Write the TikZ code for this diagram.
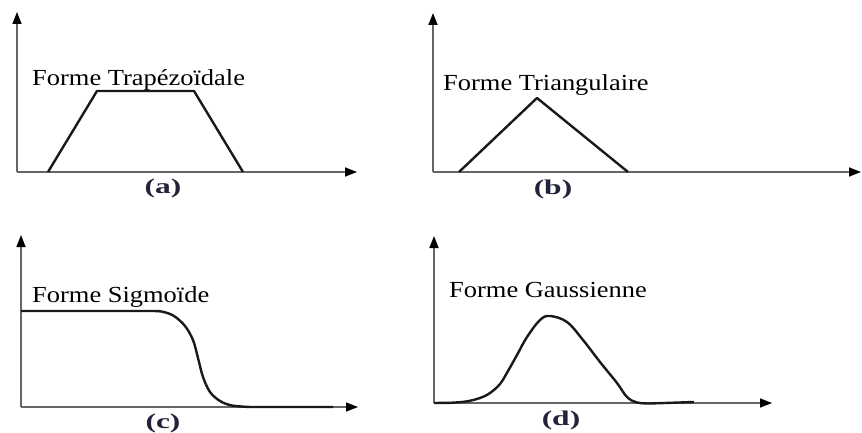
\documentclass[tikz,border=0pt]{standalone}
\usepackage{fontspec}
\setmainfont{Liberation Serif}
\newfontfamily\titlefont[FakeStretch=1.15]{Liberation Serif}
\newfontfamily\labfont[FakeStretch=1.5]{Liberation Serif}
\usetikzlibrary{arrows.meta}
\definecolor{labcol}{HTML}{22223A}
\begin{document}
\begin{tikzpicture}[x=1pt,y=-1pt,
  axis/.style={draw=black!60, line width=1.6pt, -{Triangle[length=12pt,width=9pt,color=black]}},
  curve/.style={draw=black!90, line width=2.4pt, line join=round},
  title/.style={anchor=base west, inner sep=0pt, font=\titlefont\fontsize{23}{27}\selectfont},
  lab/.style={inner sep=0pt, text=labcol, font=\labfont\bfseries\fontsize{21}{25}\selectfont}]
\useasboundingbox (0,0) rectangle (862,433);

% ---------- (a) trapezoid ----------
\coordinate (Ao) at (17,172);
\coordinate (Ay) at (17,12);
\coordinate (Ax) at (357,172);
\draw[axis] (Ao) -- (Ay);
\draw[axis] (Ao) -- (Ax);
\coordinate (A1) at (48,172);
\coordinate (A2) at (97,91);
\coordinate (A3) at (194,91);
\coordinate (A4) at (243,172);
\draw[curve] (A1) -- (A2) -- (A3) -- (A4);
\node[title] (Ta) at (32,86) {Forme Trapézoïdale};
\node[lab] (La) at (163,188) {(a)};

% ---------- (b) triangle ----------
\coordinate (Bo) at (433,172);
\coordinate (By) at (433,13);
\coordinate (Bx) at (861,172);
\draw[axis] (Bo) -- (By);
\draw[axis] (Bo) -- (Bx);
\coordinate (B1) at (459,172);
\coordinate (B2) at (537,98);
\coordinate (B3) at (628,172);
\draw[curve] (B1) -- (B2) -- (B3);
\node[title] (Tb) at (443,91) {Forme Triangulaire};
\node[lab] (Lb) at (553,189) {(b)};

% ---------- (c) sigmoid ----------
\coordinate (Co) at (21,407);
\coordinate (Cy) at (21,235);
\coordinate (Cx) at (358,407);
\draw[axis] (Co) -- (Cy);
\draw[axis] (Co) -- (Cx);
\coordinate (C1) at (21,311);
\coordinate (C2) at (150,311);
\coordinate (C3) at (333,407);
\draw[curve] (C1) -- (C2) -- plot[smooth,tension=0.55] coordinates {(150,311) (162,311.6) (174,316) (185,326) (193,340) (198,358) (203,377) (210,392) (220,401) (232,405.5) (250,407)} -- (C3);
\node[title] (Tc) at (32,302) {Forme Sigmoïde};
\node[lab] (Lc) at (163,423) {(c)};

% ---------- (d) gaussian ----------
\coordinate (Do) at (434,403);
\coordinate (Dy) at (434,236);
\coordinate (Dx) at (772,403);
\draw[axis] (Do) -- (Dy);
\draw[axis] (Do) -- (Dx);
\coordinate (D1) at (434,403);
\coordinate (D2) at (694,402);
\draw[curve] (D1) -- plot[smooth,tension=0.6] coordinates {(450,402.8) (466,401.5) (480,398) (490,393) (500,384) (508,371) (517,355) (527,337) (540,320) (550,316) (567,322) (583,340) (600,362) (617,383) (627,397) (637,402.5) (650,403.5)} -- (D2);
\node[title] (Td) at (449,297) {Forme Gaussienne};
\node[lab] (Ld) at (561,420) {(d)};
\end{tikzpicture}
\end{document}
